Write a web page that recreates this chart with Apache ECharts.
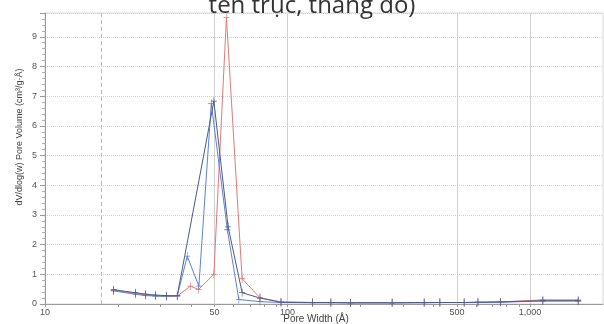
<!DOCTYPE html>
<html><head><meta charset="utf-8">
<script src="https://cdn.jsdelivr.net/npm/echarts@6/dist/echarts.min.js"></script>
<style>html,body{margin:0;padding:0;background:#fff}#c{width:604px;height:324px}</style>
</head><body><div id="c"></div>
<script>
// Pore width (Å) and dV/dlog(w) values
const redX  = [19.2, 23.6, 26, 28.5, 31.7, 35.1, 39.8, 43, 49.7, 56, 65, 77, 94, 127, 151, 182, 270, 366, 425, 535, 610, 756, 1130, 1580];
const redY  = [0.46, 0.35, 0.30, 0.28, 0.26, 0.27, 0.60, 0.49, 1.0, 9.65, 0.85, 0.21, 0.07, 0.05, 0.05, 0.04, 0.04, 0.05, 0.05, 0.05, 0.06, 0.07, 0.14, 0.14];
const blueX = [19.2, 23.6, 26, 28.5, 31.7, 35.1, 38.6, 43.1, 48.5, 56.5, 63, 77, 94, 127, 151, 182, 270, 366, 425, 535, 610, 756, 1130, 1580];
const blueY = [0.44, 0.33, 0.28, 0.27, 0.25, 0.27, 1.61, 0.60, 6.75, 2.5, 0.15, 0.08, 0.05, 0.04, 0.04, 0.04, 0.04, 0.04, 0.05, 0.05, 0.05, 0.06, 0.10, 0.10];
const navyX = [19.2, 23.6, 26, 28.5, 31.7, 35.1, 49.7, 56.9, 65, 77, 94, 127, 151, 182, 270, 366, 425, 535, 610, 756, 1130, 1580];
const navyY = [0.48, 0.38, 0.33, 0.30, 0.28, 0.28, 6.83, 2.6, 0.38, 0.20, 0.06, 0.05, 0.05, 0.04, 0.04, 0.05, 0.05, 0.05, 0.06, 0.07, 0.11, 0.11];
const xLabelValues = [10, 50, 100, 500, 1000];
const xMinorTicks = [20, 30, 40, 60, 70, 80, 90, 200, 300, 400, 600, 700, 800, 900];
const xGridValues = [50, 100, 500, 1000];
const dashedRef = 17;
const yLabels = [0,1,2,3,4,5,6,7,8,9];

const zip = (xs, ys) => xs.map((x, i) => [x, ys[i]]);
const plus = 'path://M4.5,0h1v4.5h4.5v1h-4.5v4.5h-1v-4.5h-4.5v-1h4.5z';
function mkSeries(name, xs, ys, color, extra) {
  return Object.assign({
    name, type: 'line', data: zip(xs, ys), symbol: plus, symbolSize: [6, 8],
    showSymbol: true, lineStyle: { color, width: 1 }, itemStyle: { color },
    animation: false, z: 5
  }, extra || {});
}
const gridLines = {
  symbol: 'none', silent: true, label: { show: false }, animation: false,
  data: xGridValues.map(v => ({ xAxis: v, lineStyle: { color: '#d2d2d2', type: 'solid', width: 1 } }))
    .concat([{ xAxis: dashedRef, lineStyle: { color: '#b8b8b8', type: [4, 3], width: 1 } }])
};
const chart = echarts.init(document.getElementById('c'), null, { renderer: 'canvas' });
chart.setOption({
  animation: false,
  grid: { left: 45, right: 1, top: 13, bottom: 20, show: true, borderColor: '#d8d8d8', borderWidth: 1 },
  xAxis: {
    type: 'log', logBase: 10, min: 10, max: 2000,
    axisLine: { show: true, lineStyle: { color: '#9a9a9a' } },
    axisTick: { show: true, customValues: xLabelValues.concat(xMinorTicks), length: 3, lineStyle: { color: '#9a9a9a' } },
    axisLabel: {
      customValues: xLabelValues, margin: 4, fontSize: 9, color: '#555', fontFamily: 'Liberation Sans',
      formatter: v => Number(v).toLocaleString('en-US')
    },
    splitLine: { show: false }, minorTick: { show: false }
  },
  yAxis: {
    type: 'value', min: 0, max: 9.8, interval: 1,
    axisLine: { show: true, lineStyle: { color: '#9a9a9a' } },
    axisTick: { show: true, length: 5, lineStyle: { color: '#9a9a9a' } },
    minorTick: { show: true, splitNumber: 5, length: 3, lineStyle: { color: '#b0b0b0' } },
    axisLabel: { margin: 8, fontSize: 9, color: '#555', fontFamily: 'Liberation Sans',
      formatter: v => (yLabels.indexOf(v) >= 0 ? String(v) : '') },
    splitLine: { show: true, lineStyle: { color: '#cfcfcf', type: [1, 1], width: 1 } }
  },
  series: [
    mkSeries('red', redX, redY, '#e07a78', { markLine: gridLines }),
    mkSeries('blue', blueX, blueY, '#5f80d8'),
    mkSeries('navy', navyX, navyY, '#4e5a82')
  ],
  graphic: [
    { type: 'text', x: 312, y: -6, z: 100, style: { text: 'tên trục, thang đo)', font: '24px "Open Sans"', fill: '#333', align: 'center', verticalAlign: 'top' } },
    { type: 'text', x: 20, y: 137, rotation: Math.PI / 2, style: { text: 'dV/dlog(w) Pore Volume (cm³/g·Å)', font: '9px "Liberation Sans"', fill: '#444', align: 'center', verticalAlign: 'middle' } },
    { type: 'text', x: 316, y: 319, style: { text: 'Pore Width (Å)', font: '10px "Liberation Sans"', fill: '#444', align: 'center', verticalAlign: 'middle' } }
  ]
});
</script></body></html>
